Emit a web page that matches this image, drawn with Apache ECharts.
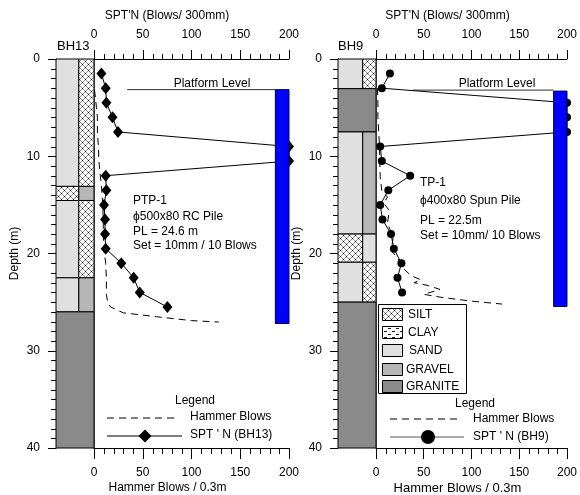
<!DOCTYPE html>
<html>
<head>
<meta charset="utf-8">
<script src="https://cdn.jsdelivr.net/npm/echarts@6/dist/echarts.min.js"></script>
<style>html,body{margin:0;padding:0;background:#fff}#c{width:580px;height:495px}</style>
</head>
<body>
<div id="c"></div>
<script>
// ---------- DATA ----------
// BH13 SPT N
var bh13Depth = [1.5, 3, 4.5, 6, 7.5, 9, 10.5, 12, 13.5, 15, 16.5, 18, 19.5, 21, 22.5, 24, 25.5];
var bh13Spt   = [7.6, 12, 12.7, 19, 24.6, 200, 200, 12, 12.7, 10.3, 11.3, 11.3, 12, 28, 40.7, 46.9, 75.3];
// BH13 hammer blows
var bh13HammerDepth = [3.2, 4, 5, 6, 7.5, 9, 10.5, 12, 13.5, 15, 16.5, 18, 19.5, 21, 22.6, 24.2, 25, 25.5, 26.1, 26.5, 26.9, 27.05];
var bh13Hammer      = [0.5, 1.5, 2.5, 3.5, 3.5, 4.5, 5, 6.5, 8, 9, 9.5, 9.5, 10, 12, 12.7, 12.7, 14, 17, 30, 64, 100, 128];
// BH9 SPT N
var bh9Depth = [1.5, 3, 4.5, 6, 7.5, 9, 10.5, 12, 13.5, 15, 16.5, 18, 19.5, 21, 22.5, 24];
var bh9Spt   = [14.6, 6.1, 200, 200, 200, 4.4, 6.1, 35.8, 12.9, 4.4, 6.8, 15.7, 18.7, 26.6, 22.5, 27.3];
// BH9 hammer blows
var bh9HammerDepth = [3.0, 4.6, 6, 7.3, 9, 10.5, 12.1, 13.5, 14.2, 14.8, 15.6, 16.9, 18.3, 19.7, 20.5, 21.4, 22.3, 22.7, 23.0, 23.3, 23.7, 24.2, 24.5, 24.9, 25.2];
var bh9Hammer      = [1.6, 2, 2, 2.7, 3.7, 4, 4.4, 6, 12, 8, 14, 12, 18, 16, 23, 27, 37, 47, 40, 55, 67, 50, 68, 100, 132];
// Soil layers: column (0 = left, 1 = right, 2 = full width), top, bottom, type
var soilTypes = ['SILT', 'CLAY', 'SAND', 'GRAVEL', 'GRANITE'];
var bh13LayerCol    = [0, 1, 0, 1, 0, 1, 0, 1, 2];
var bh13LayerTop    = [0, 0, 13.1, 13.1, 14.55, 14.55, 22.5, 22.5, 26.0];
var bh13LayerBottom = [13.1, 13.1, 14.55, 14.55, 22.5, 22.5, 26.0, 26.0, 40];
var bh13LayerType   = ['SAND', 'SILT', 'SILT', 'GRAVEL', 'SAND', 'SILT', 'SAND', 'GRAVEL', 'GRANITE'];
var bh9LayerCol    = [0, 1, 2, 0, 1, 0, 1, 0, 1, 2];
var bh9LayerTop    = [0, 0, 3.05, 7.5, 7.5, 18.0, 18.0, 20.9, 20.9, 25.0];
var bh9LayerBottom = [3.05, 3.05, 7.5, 18.0, 18.0, 20.9, 20.9, 25.0, 25.0, 40];
var bh9LayerType   = ['SAND', 'SILT', 'GRANITE', 'SAND', 'GRAVEL', 'SILT', 'SAND', 'SAND', 'SILT', 'GRANITE'];
// Piles: [left value, right value, top depth, bottom depth]
var bh13Pile = [186, 200, 3.15, 27.2];
var bh9Pile  = [186, 200, 3.3, 25.45];
// Platform level: start value, depth
var bh13Platform = [34, 3.15];
var bh9Platform  = [38.5, 3.2];
// Axis ticks
var depthTicks = [0, 10, 20, 30, 40];
var valueTicks = [0, 50, 100, 150, 200];
var depthMinorTicks = [1,2,3,4,5,6,7,8,9,11,12,13,14,15,16,17,18,19,21,22,23,24,25,26,27,28,29,31,32,33,34,35,36,37,38,39];
var valueMinorTicks = [10,20,30,40,60,70,80,90,110,120,130,140,160,170,180,190];

// ---------- STYLE ----------
var FONT = "'Liberation Sans', Arial, sans-serif";
var TICK = '#000';
function tile(w, h, draw) {
  var c = document.createElement('canvas'); c.width = w; c.height = h;
  var g = c.getContext('2d'); g.fillStyle = '#fff'; g.fillRect(0, 0, w, h);
  g.strokeStyle = '#000'; g.lineWidth = 0.9; draw(g); return c;
}
var siltTile = tile(6, 6, function (g) {
  g.beginPath();
  g.moveTo(0.5, 0.5); g.lineTo(2.5, 2.5); g.moveTo(2.5, 0.5); g.lineTo(0.5, 2.5);
  g.moveTo(3.5, 3.5); g.lineTo(5.5, 5.5); g.moveTo(5.5, 3.5); g.lineTo(3.5, 5.5);
  g.stroke();
});
var clayTile = tile(8, 6, function (g) {
  g.beginPath();
  g.moveTo(0, 1.5); g.lineTo(3, 1.5); g.moveTo(4, 4.5); g.lineTo(7, 4.5);
  g.stroke();
});
var fills = {
  SILT: { image: siltTile, repeat: 'repeat' },
  CLAY: { image: clayTile, repeat: 'repeat' },
  SAND: '#e0e0e0',
  GRAVEL: '#b6b6b6',
  GRANITE: '#8a8a8a'
};

function zip(a, b) { return a.map(function (v, i) { return [v, b[i]]; }); }
function layers(col, top, bot, type) {
  return col.map(function (c, i) { return [c, top[i], bot[i], soilTypes.indexOf(type[i])]; });
}
function soilSeries(xi, yi, data, split) {
  return {
    type: 'custom', xAxisIndex: xi, yAxisIndex: yi, data: data, z: 2, silent: true,
    encode: { x: 0, y: [1, 2] },
    renderItem: function (params, api) {
      var c = api.value(0), t = api.value(1), b = api.value(2), ty = soilTypes[api.value(3)];
      var x0 = c === 1 ? split : 0, x1 = c === 0 ? split : 1;
      var p0 = api.coord([x0, t]), p1 = api.coord([x1, b]);
      return { type: 'rect', shape: { x: p0[0], y: p0[1], width: p1[0] - p0[0], height: p1[1] - p0[1] },
        style: { fill: fills[ty], stroke: '#000', lineWidth: 1 } };
    }
  };
}
function depthMinorSeries(xi, yi) {
  return {
    type: 'custom', xAxisIndex: xi, yAxisIndex: yi, data: depthMinorTicks.map(function (d) { return [0, d]; }),
    z: 10, silent: true, clip: false, encode: { x: 0, y: 1 },
    renderItem: function (params, api) {
      var p = api.coord([0, api.value(1)]);
      var y = Math.round(p[1]) + 0.5;
      return { type: 'line', shape: { x1: p[0] - 5, y1: y, x2: p[0], y2: y }, style: { stroke: TICK, lineWidth: 1 } };
    }
  };
}
function valueMinorSeries(xi, yi, depthEdge, dir, len) {
  return {
    type: 'custom', xAxisIndex: xi, yAxisIndex: yi, data: valueMinorTicks.map(function (v) { return [v, depthEdge]; }),
    z: 10, silent: true, clip: false, encode: { x: 0, y: 1 },
    renderItem: function (params, api) {
      var p = api.coord([api.value(0), api.value(1)]);
      var x = Math.round(p[0]) + 0.5;
      return { type: 'line', shape: { x1: x, y1: p[1], x2: x, y2: p[1] + dir * len }, style: { stroke: TICK, lineWidth: 1 } };
    }
  };
}
function pileSeries(xi, yi, pile) {
  return {
    type: 'custom', xAxisIndex: xi, yAxisIndex: yi, data: [pile], z: 6, silent: true, clip: false,
    encode: { x: [0, 1], y: [2, 3] },
    renderItem: function (params, api) {
      var p0 = api.coord([api.value(0), api.value(2)]), p1 = api.coord([api.value(1), api.value(3)]);
      return { type: 'rect', shape: { x: p0[0], y: p0[1], width: p1[0] - p0[0], height: p1[1] - p0[1] },
        style: { fill: '#0000ff', stroke: '#00004a', lineWidth: 1 } };
    }
  };
}
function depthAxis(gi) {
  return {
    type: 'value', gridIndex: gi, inverse: true, min: 0, max: 40, interval: 10, position: 'left',
    axisLine: { show: true, lineStyle: { color: '#000', width: 1 } },
    axisTick: { show: true, length: 8, lineStyle: { color: '#000' } },
    axisLabel: { margin: 16, fontSize: 12, color: '#000', fontFamily: FONT,
      formatter: function (v) { return depthTicks.indexOf(v) >= 0 ? String(v) : ''; } },
    splitLine: { show: false },
    name: 'Depth (m)', nameLocation: 'middle', nameGap: 35, nameRotate: 90,
    nameTextStyle: { fontSize: 12, color: '#000', fontFamily: FONT }
  };
}
function plotYAxis(gi) {
  return { type: 'value', gridIndex: gi, inverse: true, min: 0, max: 40, position: 'right',
    axisLine: { show: true, lineStyle: { color: '#666', width: 1 } },
    axisTick: { show: false }, axisLabel: { show: false }, splitLine: { show: false } };
}
function valueAxis(gi, pos, tickLen, margin) {
  return {
    type: 'value', gridIndex: gi, position: pos, min: 0, max: 200, interval: 50,
    axisLine: { show: true, onZero: false, lineStyle: { color: '#000', width: 1 } },
    axisTick: { show: true, length: tickLen, lineStyle: { color: '#000' } },
    axisLabel: { margin: margin, fontSize: 12, color: '#000', fontFamily: FONT,
      formatter: function (v) { return valueTicks.indexOf(v) >= 0 ? String(v) : ''; } },
    splitLine: { show: false }
  };
}
function soilXAxis(gi) {
  return { type: 'value', gridIndex: gi, min: 0, max: 1, show: false };
}
function txt(text, x, y, align, size) {
  return { type: 'text', silent: true, z: 100,
    style: { text: text, x: x, y: y, fill: '#000', font: (size || 12) + 'px ' + FONT,
      textAlign: align || 'left', textVerticalAlign: 'middle', align: align || 'left', verticalAlign: 'middle' } };
}
function hline(x1, x2, y, dash, color) {
  return { type: 'line', silent: true, z: 100, shape: { x1: x1, y1: y, x2: x2, y2: y },
    style: { stroke: color || '#000', lineWidth: 1, lineDash: dash || null } };
}

var graphics = [
  txt("SPT'N (Blows/ 300mm)", 167, 16, 'center'),
  txt('Hammer Blows / 0.3m', 167.5, 488, 'center'),
  txt("SPT'N (Blows/ 300mm)", 447.5, 16, 'center'),
  txt('Hammer Blows / 0.3m', 457.5, 488, 'center', 13),
  txt('BH13', 57, 46, 'left', 13),
  txt('BH9', 338, 46, 'left', 13),
  txt('Platform Level', 212, 84, 'center'),
  txt('Platform Level', 497, 84, 'center'),
  txt('PTP-1', 133, 201), txt('\u03d5500x80 RC Pile', 133, 217), txt('PL = 24.6 m', 133, 231.5), txt('Set = 10mm / 10 Blows', 133, 246),
  txt('TP-1', 420, 183), txt('\u03d5400x80 Spun Pile', 420, 201), txt('PL = 22.5m', 420, 221), txt('Set = 10mm/ 10 Blows', 420, 236),
  txt('Legend', 195, 401, 'center'),
  hline(107, 177, 418, [7, 5]),
  txt('Hammer Blows', 190, 417),
  hline(107, 182, 436),
  { type: 'polygon', silent: true, z: 101, shape: { points: [[145, 429.5], [151.5, 436], [145, 442.5], [138.5, 436]] }, style: { fill: '#000' } },
  txt("SPT ' N (BH13)", 190, 435),
  txt('Legend', 475, 403.5, 'center'),
  hline(390, 462, 419, [7, 5]),
  txt('Hammer Blows', 473, 419),
  hline(390, 464, 437, null, '#555'),
  { type: 'circle', silent: true, z: 101, shape: { cx: 428, cy: 437, r: 7 }, style: { fill: '#000' } },
  txt("SPT ' N (BH9)", 473, 437),
  { type: 'rect', silent: true, z: 90, shape: { x: 378.5, y: 304.5, width: 88, height: 89 }, style: { fill: '#fff', stroke: '#000', lineWidth: 1 } }
];
var legendY = [308, 326, 344, 363, 380];
soilTypes.forEach(function (t, i) {
  graphics.push({ type: 'rect', silent: true, z: 95, shape: { x: 382.5, y: legendY[i] + 0.5, width: 20, height: 12 },
    style: { fill: fills[t], stroke: '#000', lineWidth: 1 } });
  graphics.push(txt(t, i < 2 ? 408 : (i === 2 ? 409 : 406), legendY[i] + 6.5));
});

var option = {
  animation: false,
  backgroundColor: '#fff',
  grid: [
    { left: 56, top: 59, width: 38, height: 389 },
    { left: 94, top: 59, width: 195, height: 389 },
    { left: 338, top: 59, width: 38, height: 389 },
    { left: 376, top: 59, width: 195, height: 389 }
  ],
  xAxis: [
    soilXAxis(0),
    valueAxis(1, 'top', 9, 18),
    valueAxis(1, 'bottom', 11, 19),
    soilXAxis(2),
    valueAxis(3, 'top', 9, 18),
    valueAxis(3, 'bottom', 11, 19)
  ],
  yAxis: [depthAxis(0), plotYAxis(1), depthAxis(2), plotYAxis(3)],
  series: [
    soilSeries(0, 0, layers(bh13LayerCol, bh13LayerTop, bh13LayerBottom, bh13LayerType), 0.6),
    soilSeries(3, 2, layers(bh9LayerCol, bh9LayerTop, bh9LayerBottom, bh9LayerType), 0.65),
    depthMinorSeries(0, 0),
    depthMinorSeries(3, 2),
    valueMinorSeries(1, 1, 0, -1, 5),
    valueMinorSeries(2, 1, 40, 1, 6),
    valueMinorSeries(4, 3, 0, -1, 5),
    valueMinorSeries(5, 3, 40, 1, 6),
    { type: 'line', name: 'Hammer Blows', xAxisIndex: 2, yAxisIndex: 1, data: zip(bh13Hammer, bh13HammerDepth),
      symbol: 'none', z: 3, lineStyle: { color: '#000', width: 1, type: [7, 5] }, silent: true },
    { type: 'line', name: 'Hammer Blows', xAxisIndex: 5, yAxisIndex: 3, data: zip(bh9Hammer, bh9HammerDepth),
      symbol: 'none', z: 3, lineStyle: { color: '#000', width: 1, type: [7, 5] }, silent: true },
    { type: 'line', name: 'Platform', xAxisIndex: 1, yAxisIndex: 1,
      data: [[bh13Platform[0], bh13Platform[1]], [bh13Pile[0], bh13Platform[1]]],
      symbol: 'none', z: 3, lineStyle: { color: '#333', width: 1 }, silent: true },
    { type: 'line', name: 'Platform', xAxisIndex: 4, yAxisIndex: 3,
      data: [[bh9Platform[0], bh9Platform[1]], [bh9Pile[0], bh9Platform[1]]],
      symbol: 'none', z: 3, lineStyle: { color: '#333', width: 1 }, silent: true },
    { type: 'line', name: 'SPT N (BH13)', xAxisIndex: 1, yAxisIndex: 1, data: zip(bh13Spt, bh13Depth), clip: false,
      symbol: 'diamond', symbolSize: [10, 12], z: 4, itemStyle: { color: '#000' }, lineStyle: { color: '#000', width: 1 }, silent: true },
    { type: 'line', name: 'SPT N (BH9)', xAxisIndex: 4, yAxisIndex: 3, data: zip(bh9Spt, bh9Depth), clip: false,
      symbol: 'circle', symbolSize: 8, z: 4, itemStyle: { color: '#000' }, lineStyle: { color: '#000', width: 1 }, silent: true },
    pileSeries(1, 1, bh13Pile),
    pileSeries(4, 3, bh9Pile)
  ],
  graphic: graphics
};
var chart = echarts.init(document.getElementById('c'), null, { renderer: 'canvas' });
chart.setOption(option);
</script>
</body>
</html>
